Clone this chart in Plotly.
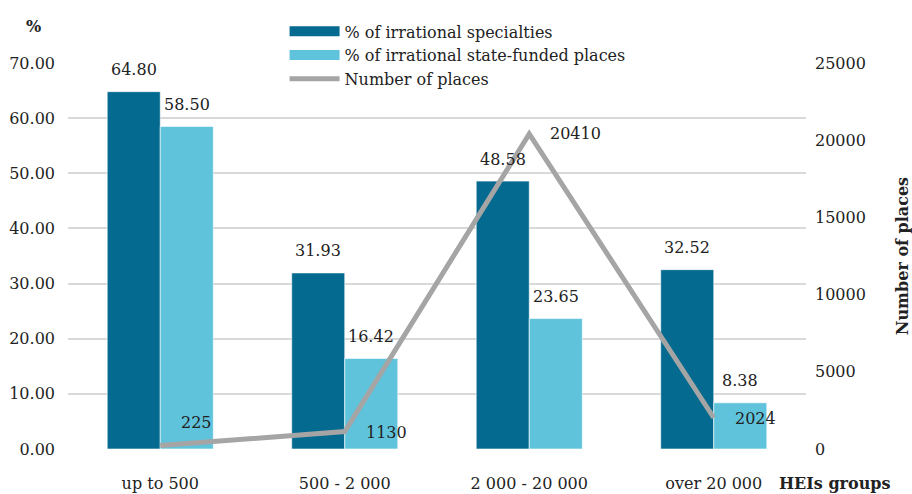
import plotly.graph_objects as go

# HEI size groups and their indicators
groups = ["up to 500", "500 - 2 000", "2 000 - 20 000", "over 20 000"]
irrational_specialties = [64.80, 31.93, 48.58, 32.52]
irrational_funded_places = [58.50, 16.42, 23.65, 8.38]
number_of_places = [225, 1130, 20410, 2024]

pct_ticks = [0, 10, 20, 30, 40, 50, 60, 70]
places_ticks = [0, 5000, 10000, 15000, 20000, 25000]

FONT = "DejaVu Serif"
DARK = "#046A8F"
LIGHT = "#5FC3DC"
GREY = "#A5A5A5"
GRID = "#D9D9D9"
TEXT = "#222"

W, H = 912, 494
L, R, T, B = 68, 106, 63, 45
plot_w = W - L - R
plot_h = H - T - B

fig = go.Figure()

fig.add_trace(go.Bar(
    x=groups, y=irrational_specialties, name="% of irrational specialties",
    marker=dict(color=DARK, line=dict(color="white", width=0.6)),
    offsetgroup="a", showlegend=False,
))
fig.add_trace(go.Bar(
    x=groups, y=irrational_funded_places, name="% of irrational state-funded places",
    marker=dict(color=LIGHT, line=dict(color="white", width=0.6)),
    offsetgroup="b", showlegend=False,
))
fig.add_trace(go.Scatter(
    x=groups, y=number_of_places, name="Number of places", yaxis="y2",
    mode="lines", line=dict(color=GREY, width=5), showlegend=False,
))

# legend entries: wide swatches for the bar series, thin bar for the line
for name, color, width in [("% of irrational specialties", DARK, 12),
                           ("% of irrational state-funded places", LIGHT, 12),
                           ("Number of places", GREY, 5)]:
    fig.add_trace(go.Scatter(x=[None], y=[None], mode="lines", name=name,
                             line=dict(color=color, width=width), hoverinfo="skip"))

annotations = []
# value labels above bars (grouped bars are offset by half a slot)
for i, g in enumerate(groups):
    annotations.append(dict(x=i - 0.143, y=irrational_specialties[i], xref="x", yref="y",
                            text=f"{irrational_specialties[i]:.2f}", showarrow=False,
                            xanchor="center", yanchor="middle", yshift=22,
                            font=dict(family=FONT, size=16, color=TEXT)))
    annotations.append(dict(x=i + 0.143, y=irrational_funded_places[i], xref="x", yref="y",
                            text=f"{irrational_funded_places[i]:.2f}", showarrow=False,
                            xanchor="center", yanchor="middle", yshift=22,
                            font=dict(family=FONT, size=16, color=TEXT)))
# labels beside line points
line_yshift = [23, -1, 0, -1]
for i, g in enumerate(groups):
    annotations.append(dict(x=i, y=number_of_places[i], xref="x", yref="y2",
                            text=f"{number_of_places[i]}", showarrow=False,
                            xanchor="left", xshift=19, yanchor="middle",
                            yshift=line_yshift[i],
                            font=dict(family=FONT, size=16, color=TEXT)))

# axis captions, positioned in paper pixels
annotations.append(dict(x=(33 - L) / plot_w, y=(H - B - 27) / plot_h, xref="paper", yref="paper",
                        text="<b>%</b>", showarrow=False, xanchor="center", yanchor="middle",
                        font=dict(family=FONT, size=16, color=TEXT)))
annotations.append(dict(x=(835 - L) / plot_w, y=(H - B - 483) / plot_h, xref="paper", yref="paper",
                        text="<b>HEIs groups</b>", showarrow=False, xanchor="center", yanchor="middle",
                        font=dict(family=FONT, size=16, color=TEXT)))

fig.update_layout(
    width=W, height=H,
    margin=dict(l=L, r=R, t=T, b=B, autoexpand=False),
    paper_bgcolor="white", plot_bgcolor="white",
    font=dict(family=FONT, size=16, color=TEXT),
    barmode="group", bargap=0.425, bargroupgap=0,
    legend=dict(x=(289 - L) / plot_w - 0.006, xanchor="left", y=1.126, yanchor="top",
                bgcolor="rgba(0,0,0,0)", font=dict(family=FONT, size=16, color=TEXT),
                itemwidth=50, tracegroupgap=0),
    xaxis=dict(showgrid=False, showline=False, ticks="", ticklabelstandoff=23,
               automargin=False, tickfont=dict(family=FONT, size=16)),
    yaxis=dict(range=[0, 70], tickvals=pct_ticks, tickformat=".2f",
               showgrid=True, gridcolor=GRID, gridwidth=1.5, zeroline=False,
               showline=False, ticks="", ticklabelstandoff=12, automargin=False,
               tickfont=dict(family=FONT, size=16)),
    yaxis2=dict(range=[0, 25000], tickvals=places_ticks, tickformat="d",
                overlaying="y", side="right", showgrid=False, zeroline=False,
                ticks="", ticklabelstandoff=8, automargin=False,
                title=dict(text="<b>Number of places</b>", font=dict(family=FONT, size=16),
                           standoff=34),
                tickfont=dict(family=FONT, size=16)),
    annotations=annotations,
)

fig.write_html("out.html")
